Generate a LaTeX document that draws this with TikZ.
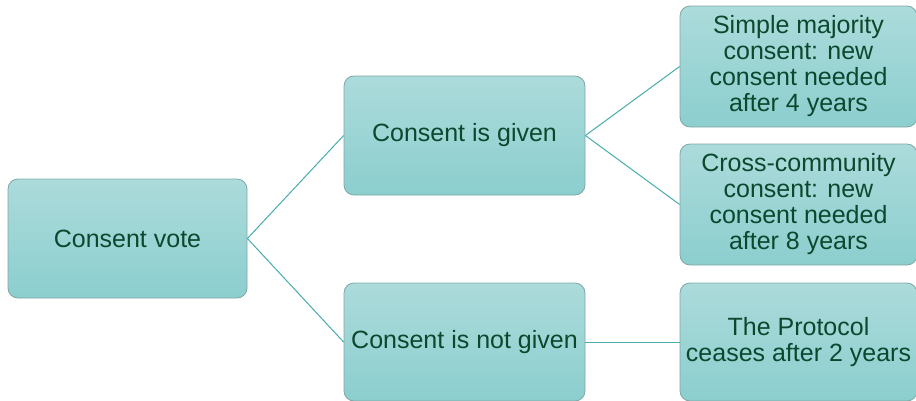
\documentclass[tikz,border=0pt]{standalone}
\usepackage{fontspec}
\setmainfont{Liberation Sans}
\definecolor{boxtop}{RGB}{172,219,219}
\definecolor{boxbot}{RGB}{140,206,206}
\definecolor{boxline}{RGB}{128,166,166}
\definecolor{txtcol}{RGB}{12,72,46}
\definecolor{linkcol}{RGB}{72,172,172}
\tikzset{
  box/.style={rectangle, rounded corners=10pt, draw=boxline, line width=0.8pt,
    top color=boxtop, bottom color=boxbot, inner sep=0pt, align=center,
    text=txtcol, font=\fontsize{25}{26}\selectfont},
  link/.style={draw=linkcol, line width=1pt}
}
\begin{document}
\begin{tikzpicture}[x=1pt,y=-1pt]
\useasboundingbox (0,0) rectangle (916,400);
\node[box, minimum width=239pt, minimum height=119pt] (vote) at (127.5,238.5) {Consent vote};
\node[box, minimum width=241pt, minimum height=119pt] (given) at (464.5,135.5) {Consent is given};
\node[box, minimum width=241pt, minimum height=118pt] (notgiven) at (464.5,342) {Consent is not given};
\node[box, minimum width=237pt, minimum height=121pt] (simple) at (798.5,66.5) {Simple majority\\consent: new\\consent needed\\after 4 years};
\node[box, minimum width=237pt, minimum height=121pt] (cross) at (798.5,204.5) {Cross-community\\consent: new\\consent needed\\after 8 years};
\node[box, minimum width=237pt, minimum height=118pt] (protocol) at (798.5,342) {The Protocol\\ceases after 2 years};
\draw[link] (vote.east) -- (given.west);
\draw[link] (vote.east) -- (notgiven.west);
\draw[link] (given.east) -- (simple.west);
\draw[link] (given.east) -- (cross.west);
\draw[link] (notgiven.east) -- (protocol.west);
\end{tikzpicture}
\end{document}
